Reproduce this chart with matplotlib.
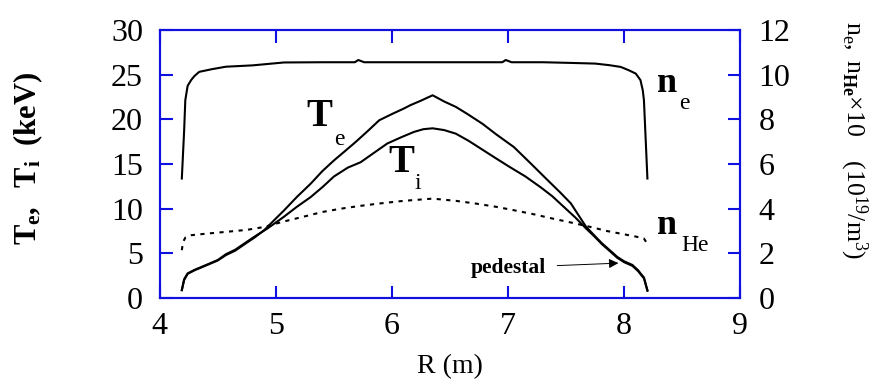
import matplotlib
matplotlib.use("Agg")
import matplotlib.pyplot as plt

plt.rcParams["font.family"] = ["Liberation Serif", "DejaVu Serif"]
plt.rcParams["mathtext.fontset"] = "custom"
plt.rcParams["mathtext.rm"] = "Liberation Serif"
plt.rcParams["mathtext.it"] = "Liberation Serif:italic"
plt.rcParams["mathtext.bf"] = "Liberation Serif:bold"

BLUE = "#1010e0"

# electron density (right axis, 10^19 /m^3)
r_ne = [4.19, 4.21, 4.22, 4.24, 4.27, 4.30, 4.34, 4.45, 4.57, 4.80, 5.07, 5.40, 5.68,
        5.71, 5.76, 6.00, 6.35, 6.70, 6.95, 6.98, 7.03, 7.30, 7.54, 7.75, 7.87, 7.97,
        8.04, 8.10, 8.14, 8.16, 8.17, 8.20]
ne = [5.35, 7.5, 8.86, 9.5, 9.76, 9.95, 10.13, 10.25, 10.36, 10.42, 10.55, 10.56, 10.56,
      10.66, 10.56, 10.56, 10.56, 10.56, 10.56, 10.66, 10.56, 10.56, 10.53, 10.5, 10.43,
      10.35, 10.2, 10.05, 9.76, 9.3, 8.86, 5.35]

# electron temperature (keV)
r_te = [4.19, 4.21, 4.24, 4.30, 4.41, 4.50, 4.57, 4.65, 4.74, 4.82, 4.90, 5.00, 5.07,
        5.18, 5.30, 5.40, 5.50, 5.60, 5.69, 5.80, 5.89, 6.00, 6.10, 6.16, 6.25, 6.35,
        6.45, 6.55, 6.65, 6.78, 6.90, 7.05, 7.20, 7.34, 7.45, 7.54, 7.62, 7.67, 7.75,
        7.81, 7.88, 7.94, 8.00, 8.07, 8.12, 8.15, 8.17, 8.20]
te = [0.86, 2.0, 2.7, 3.1, 3.7, 4.2, 4.8, 5.3, 6.1, 6.8, 7.6, 8.9, 9.8,
      11.3, 12.8, 14.2, 15.4, 16.5, 17.5, 18.8, 19.9, 20.6, 21.2, 21.6, 22.1, 22.7,
      22.0, 21.4, 20.6, 19.5, 18.3, 16.9, 15.0, 13.2, 11.8, 10.6, 9.0, 8.0, 6.9,
      6.1, 5.3, 4.6, 4.1, 3.7, 3.1, 2.6, 2.3, 0.86]

# ion temperature (keV)
r_ti = [4.19, 4.21, 4.24, 4.30, 4.41, 4.50, 4.57, 4.65, 4.74, 4.82, 4.93, 5.07, 5.18,
        5.30, 5.40, 5.50, 5.62, 5.73, 5.85, 5.96, 6.08, 6.19, 6.27, 6.35, 6.45, 6.55,
        6.66, 6.78, 6.90, 7.01, 7.15, 7.28, 7.38, 7.48, 7.58, 7.67, 7.75, 7.81, 7.88,
        7.94, 8.00, 8.07, 8.12, 8.15, 8.17, 8.20]
ti = [0.9, 2.1, 2.75, 3.15, 3.75, 4.25, 4.9, 5.4, 6.2, 6.9, 7.8, 9.1, 10.2,
      11.3, 12.4, 13.6, 14.6, 15.2, 16.3, 17.3, 18.0, 18.6, 18.9, 19.0, 18.8, 18.4,
      17.6, 16.6, 15.6, 14.7, 13.6, 12.4, 11.4, 10.2, 9.0, 7.8, 6.8, 6.0, 5.2,
      4.5, 4.0, 3.6, 3.0, 2.5, 2.2, 0.8]

# helium density x10 (right axis)
r_nhe = [4.19, 4.20, 4.22, 4.27, 4.40, 4.57, 4.75, 4.90, 5.05, 5.23, 5.40, 5.56, 5.72,
         5.89, 6.10, 6.35, 6.55, 6.72, 6.90, 7.05, 7.22, 7.38, 7.55, 7.71, 7.85, 7.97,
         8.10, 8.17, 8.19, 8.20]
nhe = [2.14, 2.5, 2.7, 2.81, 2.88, 2.96, 3.05, 3.18, 3.4, 3.63, 3.85, 4.0, 4.12,
       4.23, 4.35, 4.45, 4.35, 4.23, 4.08, 3.93, 3.75, 3.56, 3.37, 3.18, 3.0, 2.88,
       2.75, 2.66, 2.5, 2.29]

fig = plt.figure(figsize=(8.73, 3.81), dpi=100)
ax = fig.add_axes([0.183, 0.218, 0.665, 0.703])
ax2 = ax.twinx()

ax.plot(r_te, te, color="black", lw=1.5)
ax.plot(r_ti, ti, color="black", lw=1.5)
ax2.plot(r_ne, ne, color="black", lw=1.5)
ax2.plot(r_nhe, nhe, color="black", lw=1.5, linestyle=(0, (2.0, 2.6)))

ax.set_xlim(4, 9)
ax.set_ylim(0, 30)
ax2.set_ylim(0, 12)
ax.set_xticks([4, 5, 6, 7, 8, 9])
ax.set_yticks([0, 5, 10, 15, 20, 25, 30])
ax2.set_yticks([0, 2, 4, 6, 8, 10, 12])

for a in (ax, ax2):
    for s in a.spines.values():
        s.set_color(BLUE)
        s.set_linewidth(1.5)
ax.tick_params(axis="both", direction="in", length=9, width=1.5, color=BLUE,
               labelsize=23, top=True)
ax.tick_params(axis="y", left=True, right=False, pad=12)
ax.tick_params(axis="x", pad=10)
ax2.tick_params(axis="y", direction="in", length=9, width=1.5, color=BLUE,
                labelsize=23, pad=13)

ax.set_xlabel("R (m)", fontsize=20, va="top")
ax.xaxis.set_label_coords(0.5, -0.21)
ax.set_ylabel(r"$\mathbf{T_{e},\ \ T_{i}\ \ (keV)}$", fontsize=22)
ax.yaxis.set_label_coords(-0.198, 0.52)
ax2.set_ylabel(r"$\mathrm{n_{e},\ n_{\mathbf{He}}{\times}10\ \ \ \ (10^{19}/m^{3})}$",
               fontsize=18.5, rotation=270, va="center")
ax2.yaxis.set_label_coords(1.195, 0.59)

# curve labels
ax.text(5.38, 20.3, r"$\mathbf{T}$", fontsize=28, ha="center", va="center")
ax.text(5.55, 17.7, "e", fontsize=17, ha="center", va="center")
ax.text(6.08, 15.2, r"$\mathbf{T}$", fontsize=28, ha="center", va="center")
ax.text(6.22, 12.8, "i", fontsize=17, ha="center", va="center")
ax.text(8.37, 24.0, r"$\mathbf{n}$", fontsize=26, ha="center", va="center")
ax.text(8.52, 21.8, "e", fontsize=17, ha="center", va="center")
ax.text(8.37, 8.1, r"$\mathbf{n}$", fontsize=26, ha="center", va="center")
ax.text(8.61, 5.9, "He", fontsize=17, ha="center", va="center")

ax.annotate("pedestal", xy=(7.95, 3.9), xytext=(6.68, 3.4),
            fontsize=15.5, fontweight="bold", ha="left", va="center",
            arrowprops=dict(arrowstyle="-|>", color="black", lw=0.7,
                            mutation_scale=14, shrinkA=6, shrinkB=0))

fig.savefig("out.png", dpi=100)
